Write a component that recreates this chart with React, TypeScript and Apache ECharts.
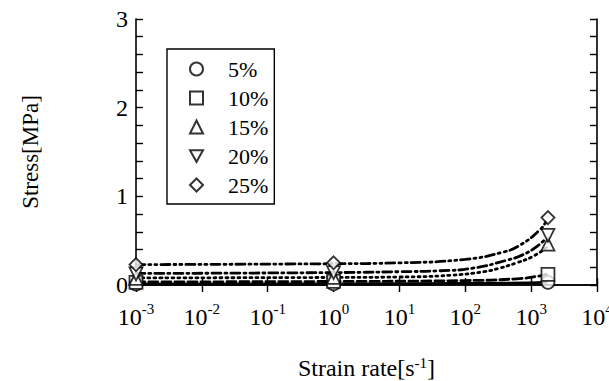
import React, { useEffect, useRef } from "react";
import * as echarts from "echarts";

// Measured points (strain rate [1/s], stress [MPa])
const strainRates = [0.001, 1, 1800];
const seriesNames = ["5%", "10%", "15%", "20%", "25%"];
const stress5 = [0.01, 0.012, 0.03];
const stress10 = [0.03, 0.04, 0.12];
const stress15 = [0.075, 0.085, 0.46];
const stress20 = [0.125, 0.14, 0.56];
const stress25 = [0.23, 0.25, 0.76];

// Fitted curves: [strain rate, stress]
const fit5: number[][] = [[0.001, 0.01], [1, 0.012], [300, 0.02], [1700, 0.03]];
const fit10: number[][] = [[0.001, 0.035], [1, 0.04], [100, 0.05], [600, 0.07], [1300, 0.1], [1700, 0.12]];
const fit15: number[][] = [[0.001, 0.08], [1, 0.085], [10, 0.09], [60, 0.11], [190, 0.15], [330, 0.19], [600, 0.25], [1050, 0.32], [1700, 0.42]];
const fit20: number[][] = [[0.001, 0.13], [1, 0.14], [10, 0.15], [40, 0.16], [130, 0.19], [430, 0.28], [740, 0.34], [1200, 0.43], [1700, 0.53]];
const fit25: number[][] = [[0.001, 0.23], [1, 0.24], [10, 0.25], [100, 0.29], [370, 0.37], [680, 0.45], [1350, 0.62], [1700, 0.72]];

const yTicks = [0, 1, 2, 3];

const FONT = '"Liberation Serif", "Times New Roman", serif';

export default function App() {
  const ref = useRef<HTMLDivElement>(null);
  useEffect(() => {
    document.body.style.margin = "0";
    const chart = echarts.init(ref.current!, undefined, { renderer: "svg" });
    const stressSets = [stress5, stress10, stress15, stress20, stress25];
    const fits = [fit5, fit10, fit15, fit20, fit25];
    const symbols = ["circle", "rect", "triangle", "path://M0,0 L10,0 L5,9 Z", "diamond"];
    const dashes: any[] = ["solid", [9, 4], [2, 4], [9, 4, 2, 4], [9, 4, 2, 4, 2, 4]];
    const lineSeries = fits.map((f, i) => ({
      type: "line",
      name: "fit" + i,
      data: f,
      smooth: true,
      showSymbol: false,
      symbol: "none",
      lineStyle: { color: "#000", width: 2.8, type: dashes[i], cap: "round" },
      z: 2,
      silent: true,
    }));
    const scatterSeries = stressSets.map((s, i) => ({
      type: "scatter",
      name: seriesNames[i],
      data: strainRates.map((r, j) => [r, s[j]]),
      symbol: symbols[i],
      symbolSize: 13,
      itemStyle: { color: "#fff", borderColor: "#000", borderWidth: 1.8 },
      z: 5,
    }));
    const xCommon = {
      type: "log",
      logBase: 10,
      min: 0.001,
      max: 10000,
      interval: 1,
      axisLine: { show: true, lineStyle: { color: "#000", width: 1.6 } },
      axisTick: { show: true, inside: true, length: 7, lineStyle: { color: "#000", width: 1.4 } },
      splitLine: { show: false },
    };
    const yCommon = {
      type: "value",
      min: 0,
      max: 3,
      interval: 1,
      axisLine: { show: true, lineStyle: { color: "#000", width: 1.6 } },
      axisTick: { show: true, inside: true, length: 7, lineStyle: { color: "#000", width: 1.4 } },
      minorTick: { show: true, splitNumber: 5, length: 7, lineStyle: { color: "#000", width: 1.4 } },
      splitLine: { show: false },
      minorSplitLine: { show: false },
    };
    chart.setOption({
      animation: false,
      backgroundColor: "#fff",
      textStyle: { fontFamily: FONT, color: "#000" },
      grid: { left: 136, right: 12, top: 19, bottom: 96, containLabel: false, outerBoundsMode: "none" },
      legend: {
        data: seriesNames,
        orient: "vertical",
        left: 167,
        top: 49,
        padding: [9, 6, 8, 22],
        borderColor: "#000",
        borderWidth: 1.4,
        itemWidth: 13,
        itemHeight: 13,
        itemGap: 7,
        textStyle: { fontFamily: FONT, fontSize: 22, color: "#000", padding: [0, 0, 0, 20] },
      },
      xAxis: [
        {
          ...xCommon,
          position: "bottom",
          name: "Strain rate[s{s|-1}]",
          nameLocation: "middle",
          nameGap: 70,
          nameTextStyle: {
            fontFamily: FONT,
            fontSize: 24,
            color: "#000",
            rich: {
              s: { fontFamily: FONT, fontSize: 15, color: "#000", verticalAlign: "top", lineHeight: 26 },
            },
          },
          axisLabel: {
            margin: 16,
            color: "#000",
            fontFamily: FONT,
            formatter: (v: number) => {
              const e = Math.round(Math.log10(v));
              return "{b|10}{s|" + e + "}";
            },
            rich: {
              b: { fontFamily: FONT, fontSize: 24, color: "#000", lineHeight: 28, verticalAlign: "bottom" },
              s: { fontFamily: FONT, fontSize: 15, color: "#000", lineHeight: 28, verticalAlign: "top" },
            },
          },
        },
        {
          ...xCommon,
          position: "top",
          axisLabel: { show: false },
        },
      ],
      yAxis: [
        {
          ...yCommon,
          position: "left",
          name: "Stress[MPa]",
          nameLocation: "middle",
          nameGap: 94,
          nameRotate: 90,
          nameTextStyle: { fontFamily: FONT, fontSize: 23, color: "#000" },
          axisLabel: {
            margin: 8,
            fontFamily: FONT,
            fontSize: 24,
            color: "#000",
            formatter: (v: number) => (yTicks.includes(v) ? String(v) : ""),
          },
        },
        {
          ...yCommon,
          position: "right",
          axisLabel: { show: false },
        },
      ],
      series: [...lineSeries, ...scatterSeries],
    });
    return () => chart.dispose();
  }, []);
  return <div ref={ref} style={{ width: 609, height: 381, position: "fixed", left: 0, top: 0 }} />;
}
